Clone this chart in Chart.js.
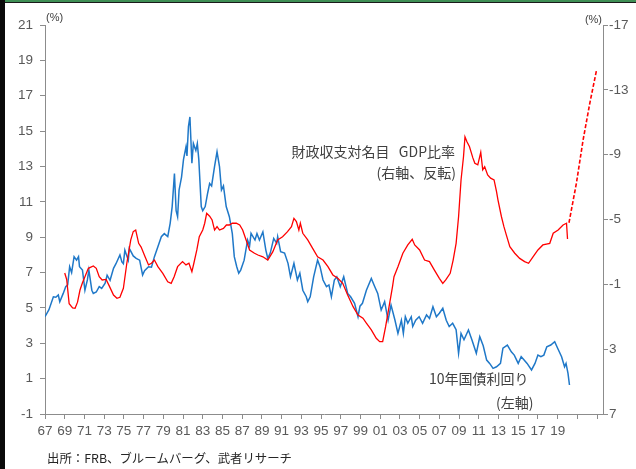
<!DOCTYPE html>
<html>
<head>
<meta charset="utf-8">
<script src="https://cdn.jsdelivr.net/npm/chart.js@4/dist/chart.umd.min.js"></script>
<style>
html,body{margin:0;padding:0;background:#fff;}
#wrap{position:relative;width:636px;height:469px;overflow:hidden;}
#c{position:absolute;left:0;top:0;}
.edge{position:absolute;}
</style>
</head>
<body>
<div id="wrap">
<canvas id="c" width="636" height="469"></canvas>
<div class="edge" style="left:0;top:0;width:636px;height:2px;background:#3f8f55;"></div>
<div class="edge" style="left:0;top:2px;width:636px;height:1px;background:#1a1a1a;"></div>
<div class="edge" style="left:0;top:0;width:5px;height:469px;background:#0a0a0a;"></div>
</div>
<script>
// ---- data ----
const yieldYears = [1967.0,1967.4,1967.85,1968.1,1968.35,1968.5,1968.85,1969.1,1969.3,1969.5,1969.7,1969.95,1970.2,1970.4,1970.5,1970.8,1971.05,1971.3,1971.45,1971.75,1971.9,1972.2,1972.5,1972.75,1973.1,1973.3,1973.6,1973.95,1974.2,1974.6,1974.8,1974.95,1975.1,1975.45,1975.55,1975.95,1976.25,1976.6,1976.9,1977.1,1977.5,1977.8,1978.1,1978.45,1978.8,1979.1,1979.45,1979.7,1979.9,1980.13,1980.3,1980.45,1980.6,1980.85,1981.05,1981.3,1981.4,1981.55,1981.7,1981.9,1982.05,1982.3,1982.45,1982.6,1982.85,1983.0,1983.25,1983.5,1983.7,1983.9,1984.2,1984.45,1984.7,1984.9,1985.1,1985.38,1985.7,1986.0,1986.2,1986.45,1986.65,1986.85,1987.2,1987.55,1987.75,1987.9,1988.3,1988.5,1988.75,1989.1,1989.4,1989.6,1989.85,1990.2,1990.5,1990.6,1990.9,1991.3,1991.65,1991.9,1992.25,1992.6,1992.85,1993.15,1993.5,1993.65,1993.9,1994.25,1994.65,1994.9,1995.2,1995.55,1995.8,1996.05,1996.35,1996.6,1996.95,1997.3,1997.7,1998.0,1998.4,1998.75,1998.95,1999.2,1999.6,2000.1,2000.45,2000.75,2001.1,2001.45,2001.8,2002.1,2002.5,2002.8,2003.15,2003.35,2003.55,2003.8,2004.15,2004.3,2004.6,2004.95,2005.3,2005.7,2006.0,2006.35,2006.7,2007.0,2007.35,2007.7,2008.0,2008.35,2008.7,2008.95,2009.2,2009.5,2009.95,2010.3,2010.75,2011.1,2011.45,2011.8,2012.1,2012.45,2012.8,2013.2,2013.45,2013.9,2014.3,2014.6,2015.0,2015.3,2015.6,2015.9,2016.35,2016.7,2017.0,2017.3,2017.6,2017.9,2018.3,2018.7,2019.0,2019.4,2019.7,2019.85,2020.05,2020.2];
const yieldValues = [4.5,4.9,5.63,5.6,5.73,5.35,5.82,6.2,6.3,7.33,7.0,7.9,7.7,7.9,7.33,7.14,6.0,6.58,7.14,6.0,5.82,5.9,6.2,6.1,6.4,6.85,6.56,7.24,7.5,8.0,7.6,7.5,8.27,7.7,8.37,7.94,7.8,7.7,6.86,7.1,7.33,7.3,7.9,8.46,9.03,9.2,9.03,9.8,10.73,12.6,10.5,10.16,11.67,12.4,13.4,14.1,13.6,15.25,15.8,13.18,14.3,13.9,14.3,13.4,10.73,10.5,10.73,11.5,12.04,11.9,13.0,13.83,12.99,11.67,11.9,10.73,10.16,9.2,7.9,7.33,6.96,7.14,7.7,8.84,8.5,9.22,8.84,9.2,8.84,9.3,8.27,7.8,8.1,8.93,8.65,9.03,8.18,8.1,7.52,6.76,7.52,6.58,6.96,6.0,5.63,5.35,5.63,6.76,7.7,7.33,6.58,6.2,6.3,5.63,6.58,6.76,6.2,6.76,5.82,5.63,5.26,4.5,5.1,5.26,6.0,6.67,6.2,5.82,4.88,5.35,4.3,5.16,4.3,3.56,4.3,3.56,4.5,4.13,4.5,3.95,4.3,4.5,4.13,4.6,4.4,5.07,4.5,4.7,4.98,4.3,3.95,4.13,3.77,2.43,3.56,3.2,3.75,3.2,2.43,3.37,2.86,2.05,1.86,1.58,1.67,1.86,2.72,2.9,2.52,2.33,1.86,2.24,2.05,1.86,1.49,1.86,2.33,2.24,2.33,2.8,2.9,3.09,2.72,2.24,1.67,1.86,1.3,0.64];

const deficitYears = [1969.0,1969.2,1969.45,1969.8,1970.05,1970.3,1970.55,1970.8,1971.05,1971.4,1971.9,1972.2,1972.5,1972.8,1973.2,1973.55,1973.95,1974.3,1974.6,1974.95,1975.3,1975.7,1975.95,1976.2,1976.5,1976.75,1977.15,1977.5,1977.8,1978.1,1978.45,1978.95,1979.45,1979.8,1980.1,1980.45,1980.95,1981.3,1981.6,1981.9,1982.1,1982.4,1982.65,1983.0,1983.2,1983.4,1983.7,1983.95,1984.2,1984.45,1984.7,1985.1,1985.4,1985.7,1986.0,1986.4,1986.75,1987.05,1987.4,1987.75,1988.25,1988.6,1989.1,1989.6,1990.1,1990.6,1991.1,1991.6,1992.0,1992.25,1992.5,1992.75,1992.9,1993.15,1993.65,1994.15,1994.65,1995.2,1995.7,1996.2,1996.7,1997.2,1997.7,1998.25,1998.75,1999.25,1999.6,2000.1,2000.6,2000.95,2001.25,2001.55,2001.9,2002.25,2002.4,2002.8,2003.3,2003.8,2004.25,2004.5,2005.0,2005.5,2006.0,2006.5,2007.0,2007.35,2007.65,2008.1,2008.4,2008.7,2008.95,2009.2,2009.45,2009.6,2009.8,2010.05,2010.4,2010.6,2010.9,2011.2,2011.4,2011.6,2011.9,2012.2,2012.55,2012.8,2012.95,2013.3,2013.55,2013.8,2014.15,2014.65,2015.15,2015.65,2016.05,2016.5,2017.0,2017.5,2018.2,2018.55,2019.05,2019.55,2019.9,2020.0];
const deficitValues = [-1.7,-1.3,0.2,0.45,0.48,0.1,-0.65,-1.1,-1.47,-1.99,-2.13,-1.99,-1.47,-1.27,-1.3,-0.86,-0.34,-0.14,-0.2,-0.76,-2.3,-3.74,-4.25,-4.35,-3.53,-3.3,-2.7,-2.2,-2.3,-2.5,-2.09,-1.68,-1.16,-1.06,-1.47,-2.09,-2.4,-2.2,-2.3,-1.78,-2.3,-3.12,-3.94,-4.35,-4.77,-5.38,-5.2,-4.97,-4.35,-4.56,-4.35,-4.45,-4.66,-4.66,-4.77,-4.77,-4.66,-4.35,-3.74,-3.12,-2.92,-2.81,-2.7,-2.5,-3.0,-3.74,-3.94,-4.25,-4.56,-5.07,-4.87,-4.35,-4.77,-4.15,-3.74,-3.22,-2.7,-2.5,-2.09,-1.58,-1.37,-1.06,-0.34,0.38,0.89,1.09,1.4,1.81,2.33,2.54,2.54,1.61,0.38,-0.86,-1.47,-2.09,-2.92,-3.43,-3.78,-3.43,-3.12,-2.5,-2.4,-1.88,-1.37,-1.06,-1.27,-1.68,-2.5,-3.53,-5.17,-7.44,-8.87,-10.1,-9.8,-9.5,-8.8,-8.47,-8.37,-9.15,-8.06,-8.26,-7.75,-7.55,-7.44,-6.72,-6.2,-5.17,-4.56,-4.04,-3.32,-2.92,-2.6,-2.4,-2.3,-2.7,-3.12,-3.43,-3.53,-4.15,-4.35,-4.66,-4.77,-3.8];

const projYears = [2020.15,2020.9,2021.58,2022.26,2022.94];
const projValues = [-4.8,-7.23,-9.9,-12.17,-14.2];

const xTickYears = [1967,1969,1971,1973,1975,1977,1979,1981,1983,1985,1987,1989,1991,1993,1995,1997,1999,2001,2003,2005,2007,2009,2011,2013,2015,2017,2019,2021,2023];
const xTickLabels = ['67','69','71','73','75','77','79','81','83','85','87','89','91','93','95','97','99','01','03','05','07','09','11','13','15','17','19','',''];

const toPts = (xs, ys) => xs.map((x, i) => ({x: x, y: ys[i]}));

const axisColor = '#8c8c8c';
const tickColor = '#595959';
const tickFont = {family: '"Liberation Sans", Arial, sans-serif', size: 13.5};
const jp = '"Noto Sans CJK JP", "Liberation Sans", sans-serif';

const textPlugin = {
  id: 'texts',
  afterDraw(chart) {
    const ctx = chart.ctx;
    ctx.save();
    ctx.fillStyle = '#404040';
    ctx.textBaseline = 'middle';
    ctx.font = '11px "Liberation Sans", Arial, sans-serif';
    ctx.textAlign = 'left';
    ctx.fillText('(%)', 46, 18);
    ctx.textAlign = 'right';
    ctx.fillText('(%)', 602, 20);
    ctx.font = '14px ' + jp;
    ctx.textAlign = 'right';
    ctx.fillText('財政収支対名目   GDP比率', 455, 152);
    ctx.fillText('(右軸、反転)', 456, 173);
    ctx.textAlign = 'left';
    ctx.fillText('10年国債利回り', 429, 379);
    ctx.fillText('(左軸)', 496, 403);
    ctx.font = '12.4px ' + jp;
    ctx.fillStyle = '#262626';
    ctx.fillText('出所：FRB、ブルームバーグ、武者リサーチ', 47, 458);
    ctx.restore();
  }
};

new Chart(document.getElementById('c'), {
  type: 'line',
  data: {
    datasets: [
      {data: toPts(deficitYears, deficitValues), yAxisID: 'y2', borderColor: '#ff0000', borderWidth: 1.3, pointRadius: 0, tension: 0},
      {data: toPts(projYears, projValues), yAxisID: 'y2', borderColor: '#ff0000', borderWidth: 1.6, borderDash: [4, 2], pointRadius: 0, tension: 0},
      {data: toPts(yieldYears, yieldValues), yAxisID: 'y', borderColor: '#1f78c8', borderWidth: 1.5, pointRadius: 0, tension: 0}
    ]
  },
  options: {
    responsive: false,
    animation: false,
    layout: {padding: {top: 25, right: 0, bottom: 30, left: 0}},
    plugins: {legend: {display: false}, tooltip: {enabled: false}},
    scales: {
      x: {
        type: 'linear', min: 1967, max: 2023.6,
        afterBuildTicks: s => { s.ticks = xTickYears.map(v => ({value: v})); },
        afterFit: s => { s.height = 25; },
        ticks: {callback: (v, i) => xTickLabels[i], autoSkip: false, maxRotation: 0, padding: 4, color: tickColor, font: tickFont},
        grid: {drawOnChartArea: false, drawTicks: true, tickLength: 5, color: axisColor},
        border: {color: axisColor, width: 1}
      },
      y: {
        position: 'left', min: -1, max: 21,
        afterFit: s => { s.width = 45; },
        ticks: {stepSize: 2, padding: 7, color: tickColor, font: tickFont},
        grid: {drawOnChartArea: false, drawTicks: true, tickLength: 5, color: axisColor},
        border: {color: axisColor, width: 1}
      },
      y2: {
        position: 'right', min: -17, max: 7, reverse: true,
        afterFit: s => { s.width = 33; },
        ticks: {stepSize: 4, padding: 1, color: tickColor, font: tickFont},
        grid: {drawOnChartArea: false, drawTicks: true, tickLength: 5, color: axisColor},
        border: {color: axisColor, width: 1}
      }
    }
  },
  plugins: [textPlugin]
});
</script>
</body>
</html>
